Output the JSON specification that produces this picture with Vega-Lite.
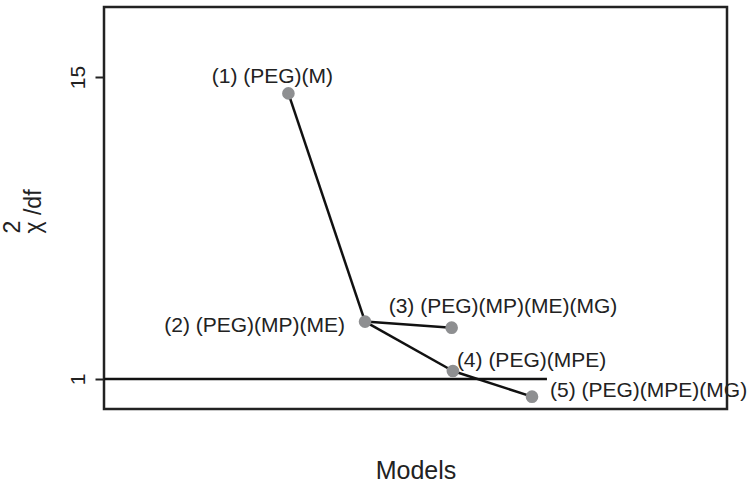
{
  "$schema": "https://vega.github.io/schema/vega-lite/v6.json",
  "width": 623,
  "height": 402,
  "autosize": {"type": "none"},
  "padding": {"left": 104, "top": 7, "right": 25, "bottom": 73},
  "background": "white",
  "config": {
    "view": {"stroke": "#222", "strokeWidth": 2.5},
    "font": "Liberation Sans",
    "text": {"font": "Liberation Sans", "fontSize": 21, "color": "#222", "baseline": "alphabetic"}
  },
  "datasets": {
    "models": [
      {"id": 1, "model": "(1) (PEG)(M)", "x": 2.96, "chi": 14.24},
      {"id": 2, "model": "(2) (PEG)(MP)(ME)", "x": 4.19, "chi": 3.66},
      {"id": 3, "model": "(3) (PEG)(MP)(ME)(MG)", "x": 5.58, "chi": 3.38},
      {"id": 4, "model": "(4) (PEG)(MPE)", "x": 5.6, "chi": 1.37},
      {"id": 5, "model": "(5) (PEG)(MPE)(MG)", "x": 6.87, "chi": 0.18}
    ],
    "steps": [
      {"from": 1, "to": 2, "x": 2.96, "chi": 14.24, "x2": 4.19, "chi2": 3.66},
      {"from": 2, "to": 3, "x": 4.19, "chi": 3.66, "x2": 5.58, "chi2": 3.38},
      {"from": 2, "to": 4, "x": 4.19, "chi": 3.66, "x2": 5.6, "chi2": 1.37},
      {"from": 4, "to": 5, "x": 5.6, "chi": 1.37, "x2": 6.87, "chi2": 0.18}
    ],
    "reference": [
      {"chi": 1, "xStart": 0, "xEnd": 7.11}
    ]
  },
  "layer": [
    {
      "data": {"name": "reference"},
      "mark": {"type": "rule", "color": "#111", "strokeWidth": 2.5},
      "encoding": {
        "x": {
          "field": "xStart", "type": "quantitative",
          "scale": {"domain": [0, 10], "nice": false, "zero": false},
          "axis": {
            "title": "Models", "labels": false, "ticks": false, "domain": false, "grid": false,
            "titleFont": "Liberation Sans", "titleFontSize": 25, "titleFontWeight": "normal",
            "titleColor": "#222", "titleX": 311.5, "titleY": 69,
            "titleBaseline": "alphabetic", "titleAlign": "center"
          }
        },
        "x2": {"field": "xEnd"},
        "y": {
          "field": "chi", "type": "quantitative",
          "scale": {"domain": [-0.391, 18.245], "nice": false, "zero": false},
          "axis": {
            "title": ["\u00a0\u00a02", "χ /df"], "values": [1, 15], "grid": false, "domain": false,
            "tickSize": 9, "tickWidth": 2, "tickColor": "#222",
            "labelAngle": -90, "labelFont": "Liberation Sans", "labelFontSize": 21,
            "labelColor": "#222", "labelPadding": 7,
            "titleFont": "Liberation Sans", "titleFontSize": 23, "titleFontWeight": "normal",
            "titleColor": "#222", "titleAngle": -90, "titleX": -85, "titleY": 226,
            "titleLineHeight": 21,
            "titleBaseline": "alphabetic", "titleAlign": "left"
          }
        }
      }
    },
    {
      "data": {"name": "steps"},
      "mark": {"type": "rule", "color": "#111", "strokeWidth": 2.5},
      "encoding": {
        "x": {"field": "x", "type": "quantitative"},
        "y": {"field": "chi", "type": "quantitative"},
        "x2": {"field": "x2"},
        "y2": {"field": "chi2"}
      }
    },
    {
      "data": {"name": "models"},
      "mark": {"type": "circle", "size": 160, "color": "#8e8f91", "opacity": 1},
      "encoding": {
        "x": {"field": "x", "type": "quantitative"},
        "y": {"field": "chi", "type": "quantitative"}
      }
    },
    {
      "data": {"name": "models"},
      "transform": [{"filter": "datum.id === 1"}],
      "mark": {"type": "text", "align": "center", "dx": -16, "dy": -10},
      "encoding": {
        "x": {"field": "x", "type": "quantitative"},
        "y": {"field": "chi", "type": "quantitative"},
        "text": {"field": "model"}
      }
    },
    {
      "data": {"name": "models"},
      "transform": [{"filter": "datum.id === 2"}],
      "mark": {"type": "text", "align": "right", "dx": -20, "dy": 10},
      "encoding": {
        "x": {"field": "x", "type": "quantitative"},
        "y": {"field": "chi", "type": "quantitative"},
        "text": {"field": "model"}
      }
    },
    {
      "data": {"name": "models"},
      "transform": [{"filter": "datum.id === 3"}],
      "mark": {"type": "text", "align": "left", "dx": -63, "dy": -15},
      "encoding": {
        "x": {"field": "x", "type": "quantitative"},
        "y": {"field": "chi", "type": "quantitative"},
        "text": {"field": "model"}
      }
    },
    {
      "data": {"name": "models"},
      "transform": [{"filter": "datum.id === 4"}],
      "mark": {"type": "text", "align": "left", "dx": 4, "dy": -4},
      "encoding": {
        "x": {"field": "x", "type": "quantitative"},
        "y": {"field": "chi", "type": "quantitative"},
        "text": {"field": "model"}
      }
    },
    {
      "data": {"name": "models"},
      "transform": [{"filter": "datum.id === 5"}],
      "mark": {"type": "text", "align": "left", "dx": 18, "dy": 0},
      "encoding": {
        "x": {"field": "x", "type": "quantitative"},
        "y": {"field": "chi", "type": "quantitative"},
        "text": {"field": "model"}
      }
    }
  ]
}
